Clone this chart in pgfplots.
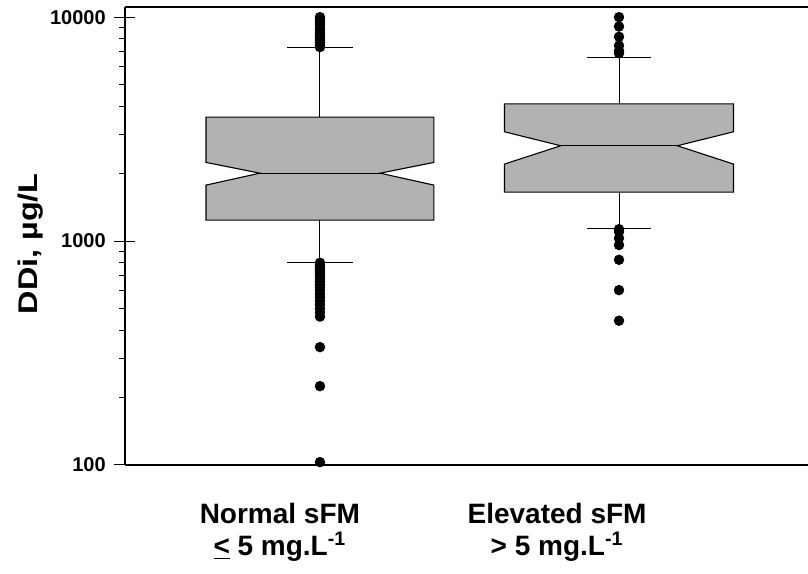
\documentclass[border=0pt]{standalone}
\usepackage{pgfplots}
\pgfplotsset{compat=1.18}
\usepackage{fontspec}
\setmainfont{Liberation Sans}
\newfontfamily\widefont[FakeStretch=1.2]{Liberation Sans}
\definecolor{boxgray}{RGB}{178,178,178}

\begin{document}
\begin{tikzpicture}
\begin{axis}[
    scale only axis,
    width=341.5pt, height=229pt,
    ymode=log, ymin=100, ymax=11100,
    xmin=0.348, xmax=2.632,
    axis x line*=box, axis y line*=left,
    axis line style={black, line width=0.7pt},
    ytick={100,1000,10000},
    yticklabels={100,1000,10000},
    yticklabel style={font=\bfseries\fontsize{10}{12}\selectfont, xshift=4.4pt},
    tick align=outside,
    major tick length=10.5pt, minor tick length=3pt,
    tick style={black, line width=0.5pt},
    major y tick style={xshift=5.25pt},
    xtick={0.866,1.793},
    xticklabels={{Normal sFM\\\underline{<} 5 mg.L\textsuperscript{-1}},
                 {Elevated sFM\\> 5 mg.L\textsuperscript{-1}}},
    x tick style={draw=none},
    xticklabel style={align=center, anchor=north, yshift=-5pt,
        font=\bfseries\fontsize{14}{16.35}\selectfont},
    ylabel={DDi, µg/L},
    ylabel shift=-3.5pt,
    ylabel style={at={(ticklabel cs:0.483)},
        font=\widefont\bfseries\fontsize{13.5}{16}\selectfont},
    clip=false,
]
\coordinate (bl) at (rel axis cs:0,0);
\coordinate (tr) at (rel axis cs:1,1);

% Normal sFM: notched box, whiskers, outliers
\addplot[fill=boxgray, draw=black, line width=0.55pt] coordinates {
  (0.619,1241) (0.619,1778) (0.799,2010) (0.619,2245) (0.619,3577)
  (1.381,3577) (1.381,2245) (1.201,2010) (1.381,1778) (1.381,1241)} -- cycle;
\addplot[black, line width=0.55pt] coordinates {(0.799,2010) (1.201,2010)};
\addplot[black, line width=0.5pt] coordinates {(1,3577) (1,7295)};
\addplot[black, line width=0.5pt] coordinates {(1,1241) (1,800)};
\addplot[black, line width=0.5pt] coordinates {(0.891,7295) (1.109,7295)};
\addplot[black, line width=0.5pt] coordinates {(0.891,800) (1.109,800)};
\addplot[only marks, mark=*, mark size=2.4pt, black] coordinates {
  (1,7350) (1,7500) (1,7700) (1,7900) (1,8100) (1,8300) (1,8500)
  (1,8800) (1,9000) (1,9300) (1,9600) (1,9800) (1,10000)
  (1,800) (1,780) (1,760) (1,740) (1,720) (1,700) (1,680) (1,660)
  (1,640) (1,620) (1,600) (1,580) (1,560) (1,540) (1,520) (1,500)
  (1,480) (1,460) (1,336) (1,225) (1,103)};

% Elevated sFM
\addplot[fill=boxgray, draw=black, line width=0.55pt] coordinates {
  (1.617,1655) (1.617,2207) (1.805,2665) (1.617,3076) (1.617,4102)
  (2.383,4102) (2.383,3076) (2.195,2665) (2.383,2207) (2.383,1655)} -- cycle;
\addplot[black, line width=0.55pt] coordinates {(1.805,2665) (2.195,2665)};
\addplot[black, line width=0.5pt] coordinates {(2,4102) (2,6578)};
\addplot[black, line width=0.5pt] coordinates {(2,1655) (2,1135)};
\addplot[black, line width=0.5pt] coordinates {(1.893,6578) (2.107,6578)};
\addplot[black, line width=0.5pt] coordinates {(1.893,1135) (2.107,1135)};
\addplot[only marks, mark=*, mark size=2.4pt, black] coordinates {
  (2,6900) (2,7080) (2,7460) (2,8170) (2,9080) (2,10000)
  (2,1130) (2,1100) (2,1030) (2,960) (2,825) (2,604) (2,441)};
\end{axis}
\pgfresetboundingbox
\path[use as bounding box] ([xshift=-62.5pt,yshift=-54pt]bl) rectangle ([yshift=3.5pt]tr);
\end{tikzpicture}
\end{document}
